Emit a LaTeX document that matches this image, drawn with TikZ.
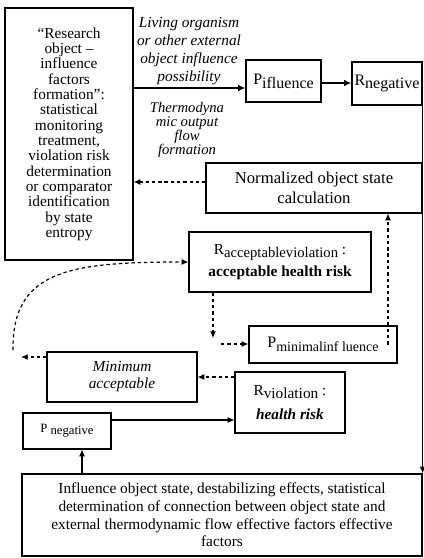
\documentclass[tikz,border=0pt]{standalone}
\usepackage{fontspec}
\setmainfont{Liberation Serif}
\usetikzlibrary{arrows.meta}

\tikzset{
  box/.style={draw,line width=.9pt,inner sep=0pt,align=center},
  lbl/.style={inner sep=0pt,align=center,font=\itshape\fontsize{11.5}{13.5}\selectfont},
  fullarrow/.style={-{Latex[length=5pt,width=4.5pt]},line width=.9pt},
  heavyarrow/.style={-{Latex[length=5.5pt,width=5pt]},line width=1.8pt},
  dotarrow/.style={-{Latex[length=5pt,width=4.5pt]},line width=.9pt,dash pattern=on 2.5pt off 2.2pt},
}

\begin{document}
\begin{tikzpicture}[x=.75pt,y=-.75pt]
            \useasboundingbox (0,0) rectangle (424,558);
            % boxes
            \node[box,minimum width=96pt,minimum height=189pt,font=\fontsize{11.5}{11.5}\selectfont] (research) at (69,134)
                {“Research\\object –\\influence\\factors\\formation”:\\statistical\\monitoring\\treatment,\\violation risk\\determination\\or comparator\\identification\\by state\\entropy};
            \node[box,minimum width=56.25pt,minimum height=31.5pt,font=\fontsize{12}{14}\selectfont] (pinf) at (283.5,81) {P\raisebox{-.5ex}{ifluence}};
            \node[box,minimum width=52.5pt,minimum height=32.25pt,font=\fontsize{12}{14}\selectfont] (rneg) at (387,83.5) {R\raisebox{-.5ex}{negative}};
            \node[box,minimum width=162pt,minimum height=37.5pt,font=\fontsize{12.5}{15}\selectfont] (norm) at (314,188) {Normalized object state\\calculation};
            \node[box,minimum width=136.5pt,minimum height=45pt,font=\fontsize{11.5}{17}\selectfont] (racc) at (280,262)
                {R\raisebox{-.5ex}{\fontsize{11}{12}\selectfont acceptableviolation} :\\\textbf{acceptable health risk}};
            \node[box,minimum width=111pt,minimum height=27.75pt,font=\fontsize{12}{14}\selectfont] (pmin) at (323,344.5) {P\raisebox{-.5ex}{\fontsize{10.5}{12}\selectfont minimalinf luence}};
            \node[box,minimum width=112.5pt,minimum height=37.5pt,font=\itshape\fontsize{11.5}{12.75}\selectfont] (minacc) at (122,377) {Minimum\\acceptable};
            \node[box,minimum width=82.5pt,minimum height=45.75pt,font=\fontsize{11.5}{18}\selectfont] (rviol) at (290,402.5)
                {R\raisebox{-.5ex}{violation} :\\\textbf{\textit{health risk}}};
            \node[box,minimum width=66pt,minimum height=27pt,font=\fontsize{9.5}{11}\selectfont] (pneg) at (67,431) {P \raisebox{-.4ex}{negative}};
            \node[box,minimum width=300pt,minimum height=61.5pt,font=\fontsize{11.5}{13.3}\selectfont] (bottom) at (222,515)
                {Influence object state, destabilizing effects, statistical\\determination of connection between object state and\\external thermodynamic flow effective factors effective\\factors};
            % labels on the first arrow
            \node[lbl] (living) at (189,51) {Living organism\\or other external\\object influence\\possibility};
            \node[lbl,font=\itshape\fontsize{11}{10.5}\selectfont] (thermo) at (187,130) {Thermodyna\\mic output\\flow\\formation};
            % solid arrows
            \draw[heavyarrow] (research.east |- 0,88) -- (pinf.west |- 0,88);
            \draw[heavyarrow] (pinf.east |- 0,83) -- (rneg.west |- 0,83);
            \draw[fullarrow] (rneg.south east) -- (bottom.north east);
            \draw[fullarrow] (pneg.east |- 0,420) -- (rviol.west |- 0,420);
            \draw[fullarrow] (bottom.north -| 82,0) -- (pneg.south -| 82,0);
            % dashed arrows
            \coordinate (turn) at (213,338);
            \coordinate (turnout) at (221,344);
            \coordinate (loopend) at (21,357);
            \coordinate (loopstart) at (13,350);
            \draw[dotarrow] (norm.west |- 0,182) -- (research.east |- 0,182);
            \draw[dotarrow] (pmin -| 388,0) -- (norm.south -| 388,0);
            \draw[dotarrow] (racc.south -| turn) -- (turn);
            \draw[dotarrow] (turnout) -- (pmin.west |- turnout);
            \draw[dotarrow] (rviol.west |- minacc) -- (minacc.east);
            \draw[dotarrow] (minacc.west |- 0,357) -- (loopend);
            \draw[dotarrow] (loopstart) .. controls (12,270) and (70,262) .. (racc.west);
        \end{tikzpicture}
\end{document}
